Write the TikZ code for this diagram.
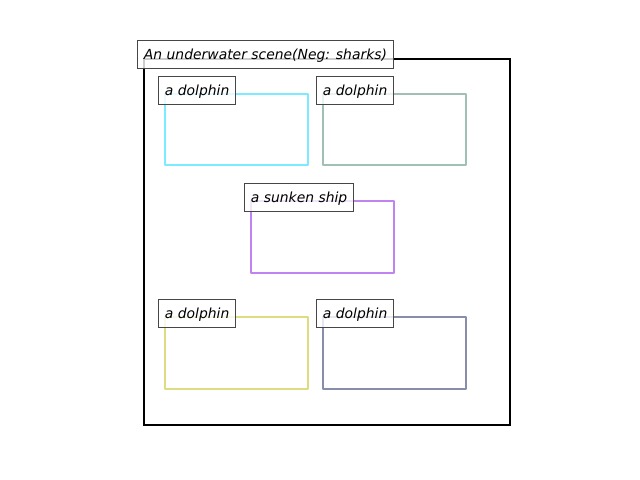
\documentclass[tikz,border=0pt]{standalone}
\usepackage{fontspec}
\setmainfont{DejaVu Sans}
\definecolor{cyanb}{RGB}{125,235,255}
\definecolor{sageb}{RGB}{160,192,182}
\definecolor{purpb}{RGB}{192,132,242}
\definecolor{yellb}{RGB}{222,220,128}
\definecolor{slateb}{RGB}{136,141,171}
\definecolor{lblborder}{RGB}{70,70,70}
\tikzset{
  region/.style={draw, line width=2.5bp, line join=round},
  lbl/.style={draw=lblborder, line width=0.9bp, fill=white, fill opacity=0.8, text opacity=1,
    anchor=west, minimum height=28bp, inner xsep=6.5bp, inner ysep=0pt,
    text height=12bp, text depth=1bp,
    font=\fontsize{13.9bp}{16bp}\selectfont\itshape},
}
\begin{document}
\begin{tikzpicture}[x=1bp,y=-1bp]
\useasboundingbox (0,0) rectangle (640,480);
\draw[line width=2.4bp] (144,59) rectangle (510,425);
\node[lbl] (title) at (137,54) {An underwater scene(Neg: sharks)};
% regions
\draw[region, cyanb] (165,94) rectangle (308,165);
\draw[region, sageb] (323,94) rectangle (466,165);
\draw[region, purpb] (251,201) rectangle (394,273);
\draw[region, yellb] (165,317) rectangle (308,389);
\draw[region, slateb] (323,317) rectangle (466,389);
% labels
\node[lbl] (l1) at (158,90) {a dolphin};
\node[lbl] (l2) at (316,90) {a dolphin};
\node[lbl] (l3) at (244,197) {a sunken ship};
\node[lbl] (l4) at (158,313) {a dolphin};
\node[lbl] (l5) at (316,313) {a dolphin};
\end{tikzpicture}
\end{document}
